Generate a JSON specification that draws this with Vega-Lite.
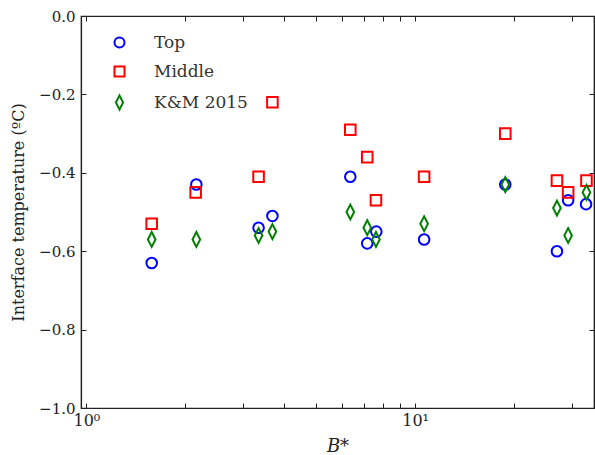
{
  "$schema": "https://vega.github.io/schema/vega-lite/v6.json",
  "width": 513,
  "height": 392,
  "autosize": {"type": "none"},
  "padding": {"left": 81, "top": 16, "right": 1, "bottom": 47},
  "background": "white",
  "config": {
    "view": {"stroke": "#222222", "strokeWidth": 1.2},
    "font": "DejaVu Serif",
    "axis": {"grid": false, "domainColor": "#222222", "tickColor": "#222222", "labelColor": "#222222", "titleColor": "#222222", "labelFont": "DejaVu Serif", "titleFont": "DejaVu Serif", "titleFontWeight": "normal", "labelFontSize": 15, "titleFontSize": 16, "tickSize": -5, "domainWidth": 1.2}
  },
  "data": {"values": [
    {"B": 1.58, "T": -0.63, "series": "Top"},
    {"B": 2.16, "T": -0.43, "series": "Top"},
    {"B": 3.34, "T": -0.54, "series": "Top"},
    {"B": 3.68, "T": -0.51, "series": "Top"},
    {"B": 6.35, "T": -0.41, "series": "Top"},
    {"B": 7.15, "T": -0.58, "series": "Top"},
    {"B": 7.62, "T": -0.55, "series": "Top"},
    {"B": 10.65, "T": -0.57, "series": "Top"},
    {"B": 18.8, "T": -0.43, "series": "Top"},
    {"B": 27.0, "T": -0.60, "series": "Top"},
    {"B": 29.2, "T": -0.47, "series": "Top"},
    {"B": 33.1, "T": -0.48, "series": "Top"},
    {"B": 1.58, "T": -0.53, "series": "Middle"},
    {"B": 2.15, "T": -0.45, "series": "Middle"},
    {"B": 3.34, "T": -0.41, "series": "Middle"},
    {"B": 3.68, "T": -0.22, "series": "Middle"},
    {"B": 6.35, "T": -0.29, "series": "Middle"},
    {"B": 7.15, "T": -0.36, "series": "Middle"},
    {"B": 7.6, "T": -0.47, "series": "Middle"},
    {"B": 10.65, "T": -0.41, "series": "Middle"},
    {"B": 18.8, "T": -0.30, "series": "Middle"},
    {"B": 27.0, "T": -0.42, "series": "Middle"},
    {"B": 29.2, "T": -0.45, "series": "Middle"},
    {"B": 33.2, "T": -0.42, "series": "Middle"},
    {"B": 1.58, "T": -0.57, "series": "K&M 2015"},
    {"B": 2.16, "T": -0.57, "series": "K&M 2015"},
    {"B": 3.34, "T": -0.56, "series": "K&M 2015"},
    {"B": 3.68, "T": -0.55, "series": "K&M 2015"},
    {"B": 6.35, "T": -0.50, "series": "K&M 2015"},
    {"B": 7.15, "T": -0.54, "series": "K&M 2015"},
    {"B": 7.6, "T": -0.57, "series": "K&M 2015"},
    {"B": 10.65, "T": -0.53, "series": "K&M 2015"},
    {"B": 18.8, "T": -0.43, "series": "K&M 2015"},
    {"B": 27.0, "T": -0.49, "series": "K&M 2015"},
    {"B": 29.2, "T": -0.56, "series": "K&M 2015"},
    {"B": 33.2, "T": -0.45, "series": "K&M 2015"}
  ]},
  "resolve": {"axis": {"x": "independent", "y": "independent"}},
  "layer": [
    {
      "mark": {"type": "point", "filled": false, "strokeWidth": 2, "size": 112, "opacity": 1},
      "encoding": {
        "x": {"field": "B", "type": "quantitative", "scale": {"type": "log", "domain": [0.963, 35], "nice": false},
          "axis": {"title": "B*", "titleFontStyle": "italic", "titleFontSize": 18, "titlePadding": 9, "values": [1,2,3,4,5,6,7,8,9,10,20,30], "labelExpr": "datum.value == 1 ? '10⁰' : datum.value == 10 ? '10¹' : ''", "labelPadding": 9, "labelFontSize": 16}},
        "y": {"field": "T", "type": "quantitative", "scale": {"domain": [-1, 0], "nice": false},
          "axis": {"title": "Interface temperature (ºC)", "values": [-1, -0.8, -0.6, -0.4, -0.2, 0], "format": ".1f", "titlePadding": 12, "labelPadding": 11}},
        "color": {"field": "series", "type": "nominal", "scale": {"domain": ["Top", "Middle", "K&M 2015"], "range": ["#0000ff", "#ff0000", "#008000"]},
          "legend": {"title": null, "orient": "none", "legendX": 30, "legendY": 18, "labelFontSize": 17, "labelFont": "DejaVu Serif", "labelColor": "#333333", "rowPadding": 10, "labelOffset": 26, "symbolStrokeWidth": 2, "symbolSize": 100, "symbolOpacity": 1}},
        "shape": {"field": "series", "type": "nominal", "scale": {"domain": ["Top", "Middle", "K&M 2015"], "range": ["circle", "square", "M0,-1.4L0.72,0L0,1.4L-0.72,0Z"]}}
      }
    },
    {
      "mark": {"type": "point", "opacity": 0},
      "encoding": {
        "x": {"field": "B", "type": "quantitative", "scale": {"type": "log", "domain": [0.963, 35], "nice": false},
          "axis": {"orient": "top", "title": null, "labels": false, "values": [1,2,3,4,5,6,7,8,9,10,20,30]}},
        "y": {"field": "T", "type": "quantitative", "scale": {"domain": [-1, 0], "nice": false},
          "axis": {"orient": "right", "title": null, "labels": false, "values": [-1, -0.8, -0.6, -0.4, -0.2, 0]}}
      }
    }
  ]
}
